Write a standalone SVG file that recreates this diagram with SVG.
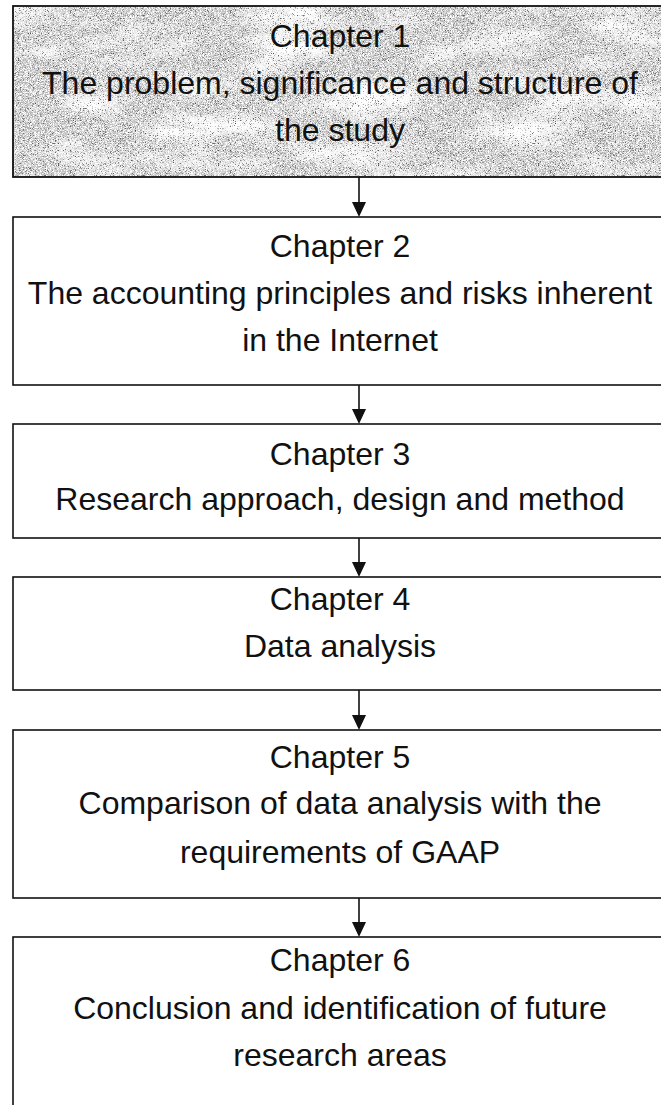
<svg xmlns="http://www.w3.org/2000/svg" width="661" height="1105" viewBox="0 0 661 1105">
<style>
.box{fill:#fff;stroke:#111;stroke-width:1.6}
.t{font-family:"Liberation Sans",Arial,sans-serif;font-size:32px;fill:#111;text-anchor:middle}
.c{stroke:#111;stroke-width:1.6;fill:none}
.ah{fill:#111}
</style>
<defs>
<filter id="granite" x="0" y="0" width="100%" height="100%" color-interpolation-filters="sRGB">
<feFlood flood-color="#bdbdbd" result="base"/>
<feTurbulence type="fractalNoise" baseFrequency="0.012 0.035" numOctaves="4" seed="4" result="low"/>
<feColorMatrix in="low" type="matrix" values="0 0 0 0 1  0 0 0 0 1  0 0 0 0 1  2.6 0 0 0 -1.1" result="lowW"/>
<feTurbulence type="fractalNoise" baseFrequency="1.6" numOctaves="1" seed="9" result="hi"/>
<feColorMatrix in="hi" type="matrix" values="0 0 0 0 1  0 0 0 0 1  0 0 0 0 1  5 0 0 0 -2.2" result="hiW"/>
<feColorMatrix in="hi" type="matrix" values="0 0 0 0 0.3  0 0 0 0 0.3  0 0 0 0 0.3  -5 0 0 0 2.05" result="hiD"/>
<feMerge><feMergeNode in="base"/><feMergeNode in="lowW"/><feMergeNode in="hiD"/><feMergeNode in="hiW"/></feMerge>
</filter>
</defs>
<g id="connectors">
<line class="c" x1="359" y1="177" x2="359" y2="203"/>
<path class="ah" d="M352,202 L366,202 L359,217 Z"/>
<line class="c" x1="359" y1="385" x2="359" y2="410"/>
<path class="ah" d="M352,409 L366,409 L359,424 Z"/>
<line class="c" x1="359" y1="538" x2="359" y2="563"/>
<path class="ah" d="M352,562 L366,562 L359,577 Z"/>
<line class="c" x1="359" y1="690" x2="359" y2="716"/>
<path class="ah" d="M352,715 L366,715 L359,730 Z"/>
<line class="c" x1="359" y1="898" x2="359" y2="923"/>
<path class="ah" d="M352,922 L366,922 L359,937 Z"/>
</g>
<g id="node1">
<rect x="13" y="6" width="700" height="171" filter="url(#granite)"/>
<rect x="13" y="6" width="700" height="171" fill="none" stroke="#111" stroke-width="1.8"/>
<text class="t" x="340" y="47">Chapter 1</text>
<text class="t" x="340" y="94">The problem, significance and structure of</text>
<text class="t" x="340" y="141">the study</text>
</g>
<g id="node2">
<rect class="box" x="13" y="217" width="700" height="168"/>
<text class="t" x="340" y="257">Chapter 2</text>
<text class="t" x="340" y="304">The accounting principles and risks inherent</text>
<text class="t" x="340" y="351">in the Internet</text>
</g>
<g id="node3">
<rect class="box" x="13" y="424" width="700" height="114"/>
<text class="t" x="340" y="465">Chapter 3</text>
<text class="t" x="340" y="510">Research approach, design and method</text>
</g>
<g id="node4">
<rect class="box" x="13" y="577" width="700" height="113"/>
<text class="t" x="340" y="610">Chapter 4</text>
<text class="t" x="340" y="657">Data analysis</text>
</g>
<g id="node5">
<rect class="box" x="13" y="730" width="700" height="168"/>
<text class="t" x="340" y="768">Chapter 5</text>
<text class="t" x="340" y="814">Comparison of data analysis with the</text>
<text class="t" x="340" y="863">requirements of GAAP</text>
</g>
<g id="node6">
<rect class="box" x="13" y="937" width="700" height="200"/>
<text class="t" x="340" y="971">Chapter 6</text>
<text class="t" x="340" y="1019">Conclusion and identification of future</text>
<text class="t" x="340" y="1066">research areas</text>
</g>
</svg>
